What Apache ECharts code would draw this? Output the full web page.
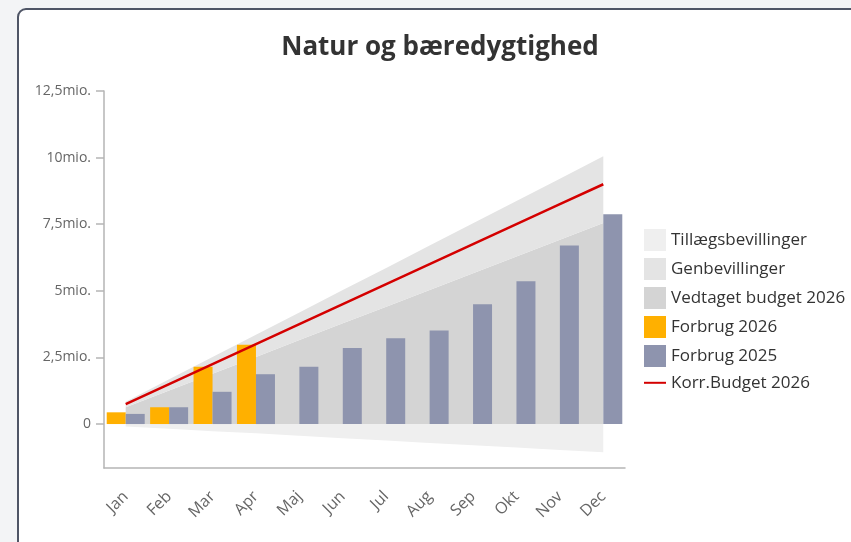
<!DOCTYPE html>
<html>
<head>
<meta charset="utf-8">
<script src="https://cdn.jsdelivr.net/npm/echarts@6/dist/echarts.min.js"></script>
<style>
    html, body { margin: 0; padding: 0; background: #f3f4f6; }
    #frame {
        position: absolute; left: 17px; top: 8px; width: 860px; height: 560px;
        border: 2px solid #4f5566; border-radius: 9px; background: #fff;
    }
    #chart { position: absolute; left: 0; top: 0; width: 851px; height: 542px; }
</style>
</head>
<body>
<div id="frame"></div>
<div id="chart"></div>
<script>
// Måneder
const months = ['Jan', 'Feb', 'Mar', 'Apr', 'Maj', 'Jun', 'Jul', 'Aug', 'Sep', 'Okt', 'Nov', 'Dec'];

// Beløb i mio. kr. (aflæst)
const vedtaget2026 = [0.63, 1.26, 1.89, 2.52, 3.15, 3.78, 4.40, 5.03, 5.66, 6.29, 6.92, 7.55];
const genbevillinger = [0.21, 0.42, 0.63, 0.83, 1.04, 1.25, 1.46, 1.67, 1.88, 2.08, 2.29, 2.50];
const tillaegsbevillinger = [-0.09, -0.18, -0.27, -0.35, -0.44, -0.53, -0.62, -0.71, -0.80, -0.88, -0.97, -1.06];
const forbrug2026 = [0.44, 0.63, 2.15, 2.98, null, null, null, null, null, null, null, null];
const forbrug2025 = [0.38, 0.63, 1.21, 1.87, 2.15, 2.85, 3.22, 3.51, 4.50, 5.36, 6.70, 7.87];
const korrBudget2026 = [0.75, 1.50, 2.25, 3.00, 3.75, 4.50, 5.25, 6.00, 6.75, 7.50, 8.25, 9.00];

// y-aksens mærker
const yTicks = [0, 2.5, 5, 7.5, 10, 12.5];

const mio = arr => arr.map(v => v == null ? null : Math.round(v * 1e6));
const font = '"Open Sans", "Noto Sans", sans-serif';

const chart = echarts.init(document.getElementById('chart'));
chart.setOption({
    animation: false,
    textStyle: { fontFamily: font },
    title: {
        text: 'Natur og bæredygtighed',
        left: 440, top: 35, textAlign: 'center', padding: 0,
        textStyle: { fontSize: 26, fontWeight: 'bold', color: '#333', fontFamily: font }
    },
    legend: {
        orient: 'vertical', left: 643, top: 229, padding: 0,
        itemWidth: 22, itemHeight: 22, itemGap: 7,
        textStyle: { fontSize: 17, color: '#333', fontFamily: font },
        data: [
            { name: 'Tillægsbevillinger', icon: 'rect' },
            { name: 'Genbevillinger', icon: 'rect' },
            { name: 'Vedtaget budget 2026', icon: 'rect' },
            { name: 'Forbrug 2026', icon: 'rect' },
            { name: 'Forbrug 2025', icon: 'rect' },
            { name: 'Korr.Budget 2026', itemStyle: { color: 'transparent', opacity: 0 } }
        ]
    },
    grid: { left: 104, right: 226, top: 91, bottom: 74, containLabel: false, outerBoundsMode: 'none' },
    xAxis: {
        type: 'category', data: months,
        axisLine: { onZero: false, lineStyle: { color: '#b5b5b5', width: 1.5 } },
        axisTick: { alignWithLabel: true, length: 10, lineStyle: { color: '#b5b5b5', width: 1.5 } },
        axisLabel: { rotate: 45, margin: 26, fontSize: 16, color: '#666', fontFamily: font }
    },
    yAxis: {
        type: 'value', min: -1650000, max: 12500000,
        axisLine: { show: true, lineStyle: { color: '#b5b5b5', width: 1.5 } },
        axisTick: {
            show: true, length: 8, customValues: mio(yTicks),
            lineStyle: { color: '#b5b5b5', width: 1.5 }
        },
        splitLine: { show: false },
        axisLabel: {
            margin: 13, fontSize: 14, color: '#666', fontFamily: font,
            customValues: mio(yTicks),
            formatter: v => v === 0 ? '0' : String(v / 1e6).replace('.', ',') + 'mio.'
        }
    },
    series: [
        {
            name: 'Vedtaget budget 2026', type: 'line', stack: 'budget', data: mio(vedtaget2026),
            symbol: 'none', lineStyle: { width: 0 }, areaStyle: { color: '#d4d4d4', opacity: 1 },
            itemStyle: { color: '#d4d4d4' }, z: 1
        },
        {
            name: 'Genbevillinger', type: 'line', stack: 'budget', data: mio(genbevillinger),
            symbol: 'none', lineStyle: { width: 0 }, areaStyle: { color: '#e4e4e4', opacity: 1 },
            itemStyle: { color: '#e4e4e4' }, z: 1
        },
        {
            name: 'Tillægsbevillinger', type: 'line', stack: 'budget', data: mio(tillaegsbevillinger),
            symbol: 'none', lineStyle: { width: 0 }, areaStyle: { color: '#efefef', opacity: 1 },
            itemStyle: { color: '#efefef' }, z: 1
        },
        {
            name: 'Forbrug 2026', type: 'bar', data: mio(forbrug2026),
            barWidth: 19, barGap: '0%', itemStyle: { color: '#ffb000' }, z: 3
        },
        {
            name: 'Forbrug 2025', type: 'bar', data: mio(forbrug2025),
            barWidth: 19, barGap: '0%', itemStyle: { color: '#8e94ae' }, z: 3
        },
        {
            name: 'Korr.Budget 2026', type: 'line', data: mio(korrBudget2026),
            symbol: 'none', lineStyle: { color: '#d40000', width: 2.5 },
            itemStyle: { color: '#d40000' }, z: 5
        }
    ]
});

window.addEventListener('resize', () => chart.resize());
</script>
</body>
</html>
